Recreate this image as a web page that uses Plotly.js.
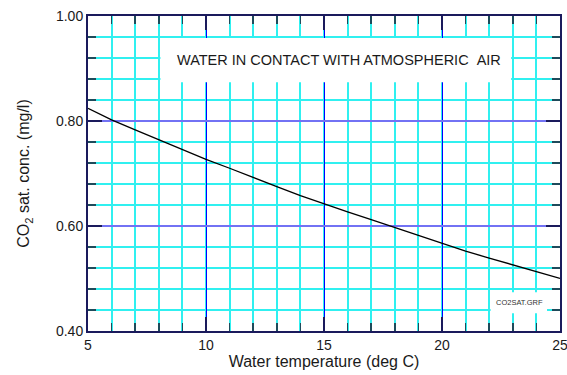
<!DOCTYPE html>
<html>
<head>
<meta charset="utf-8">
<script src="https://cdn.plot.ly/plotly-3.0.1.min.js"></script>
<style>
  html, body { margin: 0; padding: 0; background: #ffffff; }
  #chart { width: 567px; height: 375px; }
</style>
</head>
<body>
<div id="chart"></div>
<script>
// Saturation concentration of CO2 in water at equilibrium with air
const waterTempC = [5, 6, 7, 8, 9, 10, 11, 12, 13, 14, 15, 16, 17, 18, 19, 20, 21, 22, 23, 24, 25];
const co2SatMgL = [0.824, 0.802, 0.783, 0.764, 0.745, 0.727, 0.710, 0.692, 0.675, 0.658, 0.642,
                   0.627, 0.612, 0.597, 0.582, 0.566, 0.552, 0.539, 0.526, 0.513, 0.500];
const xTickVals = [5, 10, 15, 20, 25];
const xTickText = ['5', '10', '15', '20', '25'];
const yTickVals = [0.40, 0.60, 0.80, 1.00];
const yTickText = ['0.40', '0.60', '0.80', '1.00'];
const chartLabel = 'WATER IN CONTACT WITH ATMOSPHERIC\u00a0\u00a0AIR';
const fileLabel = 'CO2SAT.GRF';

const FONT = 'Liberation Sans, Arial, sans-serif';
const CYAN = '#30f0f0';
const FRAME = '#1a1a5c';
const TICK = '#1e4a5a';

const trace = {
  x: waterTempC,
  y: co2SatMgL,
  type: 'scatter',
  mode: 'lines',
  line: { color: '#000000', width: 1.3 },
  hoverinfo: 'skip',
  showlegend: false
};

const layout = {
  width: 567,
  height: 375,
  margin: { l: 88, r: 7, t: 16, b: 44 },
  paper_bgcolor: '#ffffff',
  plot_bgcolor: '#ffffff',
  font: { family: FONT, color: '#1a1a1a', size: 14 },
  xaxis: {
    range: [5, 25],
    tickmode: 'array',
    tickvals: xTickVals,
    ticktext: xTickText,
    ticks: 'inside',
    ticklen: 14,
    tickwidth: 1.5,
    tickcolor: FRAME,
    ticklabeloverflow: 'allow',
    showgrid: true,
    gridcolor: '#0000ff',
    gridwidth: 1,
    zeroline: false,
    showline: true,
    linecolor: FRAME,
    linewidth: 2,
    mirror: 'ticks',
    tickfont: { family: FONT, size: 14, color: '#1a1a1a' },
    minor: {
      dtick: 1,
      tick0: 5,
      showgrid: true,
      gridcolor: CYAN,
      gridwidth: 2,
      ticks: 'inside',
      ticklen: 8,
      tickwidth: 1.5,
      tickcolor: TICK
    },
    title: {
      text: 'Water temperature (deg C)',
      font: { family: FONT, size: 16, color: '#1a1a1a' },
      standoff: 4
    }
  },
  yaxis: {
    range: [0.40, 1.00],
    tickmode: 'array',
    tickvals: yTickVals,
    ticktext: yTickText,
    ticks: 'inside',
    ticklen: 14,
    tickwidth: 1.5,
    tickcolor: FRAME,
    ticklabeloverflow: 'allow',
    showgrid: true,
    gridcolor: '#7272f4',
    gridwidth: 2,
    zeroline: false,
    showline: true,
    linecolor: FRAME,
    linewidth: 2,
    mirror: 'ticks',
    tickfont: { family: FONT, size: 14, color: '#1a1a1a' },
    minor: {
      dtick: 0.04,
      tick0: 0.40,
      showgrid: true,
      gridcolor: CYAN,
      gridwidth: 2,
      ticks: 'inside',
      ticklen: 8,
      tickwidth: 1.5,
      tickcolor: TICK
    },
    title: {
      text: 'CO<sub>2</sub> sat. conc. (mg/l)',
      font: { family: FONT, size: 16, color: '#1a1a1a' },
      standoff: 22
    }
  },
  shapes: [
    { type: 'rect', xref: 'x', yref: 'y', x0: 8.07, x1: 22.93, y0: 0.874, y1: 0.958,
      fillcolor: '#ffffff', line: { width: 0 }, layer: 'between' },
    { type: 'rect', xref: 'x', yref: 'y', x0: 22.06, x1: 24.45, y0: 0.434, y1: 0.474,
      fillcolor: '#ffffff', line: { width: 0 }, layer: 'between' }
  ],
  annotations: [
    { x: 15.64, y: 0.917, xref: 'x', yref: 'y', text: chartLabel, showarrow: false,
      xanchor: 'center', yanchor: 'middle',
      font: { family: FONT, size: 14.5, color: '#1a1a1a' } },
    { x: 23.27, y: 0.454, xref: 'x', yref: 'y', text: fileLabel, showarrow: false,
      xanchor: 'center', yanchor: 'middle',
      font: { family: FONT, size: 7.5, color: '#333333' } }
  ]
};

Plotly.newPlot('chart', [trace], layout, { displayModeBar: false, staticPlot: true });
</script>
</body>
</html>
